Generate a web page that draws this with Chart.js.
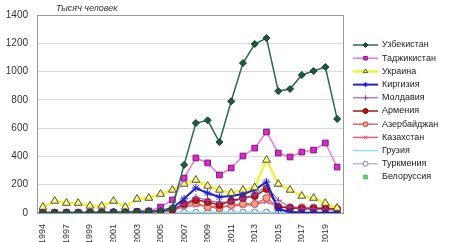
<!DOCTYPE html>
<html>
<head>
<meta charset="utf-8">
<script src="https://cdn.jsdelivr.net/npm/chart.js@4"></script>
<style>
  html, body { margin: 0; padding: 0; background: #fff; }
  #wrap { width: 450px; height: 242px; }
</style>
</head>
<body>
<div id="wrap"><canvas id="chart" width="450" height="242"></canvas></div>
<script>
// years (the second one is missing from the source series)
var years = ['1994','1995','1997','1998','1999','2000','2001','2002','2003','2004','2005','2006',
             '2007','2008','2009','2010','2011','2012','2013','2014','2015','2016','2017','2018','2019','2020'];
var yTicks = [0, 200, 400, 600, 800, 1000, 1200, 1400];

var uzbekistan  = [3,4,4,3,3,4,5,8,10,12,15,35, 340,636,655,502,790,1060,1195,1237,862,877,976,1004,1032,665];
var tajikistan  = [2,3,3,3,4,4,5,6,10,14,42,92, 247,389,354,269,318,403,459,573,424,396,431,445,495,325];
var ukraine     = [42,85,70,70,50,50,85,42,99,106,134,163, 205,233,191,163,141,163,180,375,205,163,120,106,70,35];
var kyrgyzstan  = [2,2,2,2,2,3,4,6,8,10,15,35, 100,177,141,113,120,134,163,219,28,7,3,2,2,2];
var moldova     = [1,1,1,2,2,2,3,5,7,8,10,20, 60,110,90,75,80,100,130,190,90,40,30,30,25,20];
var armenia     = [1,1,2,2,3,4,5,6,8,10,15,25, 64,92,78,57,85,106,120,170,42,35,30,30,30,25];
var azerbaijan  = [1,1,2,2,3,4,5,6,7,8,12,20, 57,70,42,35,57,64,64,106,42,40,40,38,35,30];
var kazakhstan  = [1,1,1,2,2,3,4,5,6,7,10,15, 45,55,50,45,50,55,60,80,45,40,38,35,32,28];
var georgia     = [3,3,3,3,3,3,3,4,4,4,5,5, 5,5,5,5,5,5,5,5,5,5,5,5,5,5];
var turkmenia   = [2,2,2,2,2,2,2,3,3,3,4,5, 5,5,5,6,6,6,6,6,6,5,5,5,5,5];
var belarus     = [3,2,1,1,0,0,0,1,1,1,1,1, 1,1,1,1,1,1,1,1,1,1,1,1,1,1];

function series(label, data, line, lineW, style, radius, fill, edge, extra) {
    var ds = {
        label: label,
        data: data,
        borderColor: line,
        borderWidth: lineW,
        pointStyle: style,
        pointRadius: radius,
        pointBackgroundColor: fill,
        pointBorderColor: edge,
        pointBorderWidth: 1,
        tension: 0
    };
    for (var k in extra) ds[k] = extra[k];
    return ds;
}

var datasets = [
    series('Узбекистан',  uzbekistan, '#2a6a4c', 1.5, 'rectRot', 3.5, '#1d5a3c', '#123c28'),
    series('Таджикистан', tajikistan, '#e878d8', 1.5, 'rect', 4, '#d030c8', '#8a1080'),
    series('Украина',     ukraine,    '#f4f040', 2.5, 'triangle', 4.5, '#f8f4a0', '#5a5a10'),
    series('Киргизия',    kyrgyzstan, '#2020c8', 2, 'star', 4, '#2020c8', '#2020c8'),
    series('Молдавия',    moldova,    '#9040a8', 1, 'cross', 3.5, '#9040a8', '#9040a8'),
    series('Армения',     armenia,    '#a01818', 1.5, 'circle', 3.5, '#c01010', '#801010'),
    series('Азербайджан', azerbaijan, '#d86a6a', 1.5, 'circle', 3.5, '#f0a488', '#c04040'),
    series('Казахстан',   kazakhstan, '#e86080', 1.5, 'crossRot', 3.5, '#e05070', '#e05070'),
    series('Грузия',      georgia,    '#90e4f0', 1.5, 'circle', 0, '#90e4f0', '#90e4f0'),
    series('Туркмения',   turkmenia,  '#9c98d0', 1, 'circle', 3, '#ffffff', '#7878b8'),
    series('Белоруссия',  belarus,    '#60d870', 1, 'rect', 3.5, '#70e070', '#40b050', {showLine: false})
];

// legend, title and frame drawn on the canvas
var extras = {
    id: 'extras',
    afterDraw: function(chart) {
        var ctx = chart.ctx;
        var a = chart.chartArea;
        ctx.save();
        ctx.strokeStyle = '#9a9a9a';
        ctx.lineWidth = 1;
        ctx.strokeRect(Math.round(a.left) + 0.5, Math.round(a.top) + 0.5,
                       Math.round(a.right - a.left), Math.round(a.bottom - a.top));

        ctx.fillStyle = '#333';
        ctx.font = 'italic 9px "Liberation Sans", Arial, sans-serif';
        ctx.textBaseline = 'middle';
        ctx.fillText('Тысяч человек', 56, 8);

        ctx.font = '9px "Liberation Sans", Arial, sans-serif';
        chart.data.datasets.forEach(function(ds, i) {
            var y = 45 + i * 13.2;
            if (ds.showLine !== false) {
                ctx.strokeStyle = ds.borderColor;
                ctx.lineWidth = ds.borderWidth;
                ctx.beginPath();
                ctx.moveTo(353, y);
                ctx.lineTo(378, y);
                ctx.stroke();
            }
            if (ds.pointRadius > 0) {
                ctx.fillStyle = ds.pointBackgroundColor;
                ctx.strokeStyle = ds.pointBorderColor;
                ctx.lineWidth = 1;
                Chart.helpers.drawPoint(ctx, {pointStyle: ds.pointStyle, radius: 2.5, rotation: 0, borderWidth: 1}, 365.5, y);
            }
            ctx.fillStyle = '#222';
            ctx.fillText(ds.label, 382, y);
        });
        ctx.restore();
    }
};

new Chart(document.getElementById('chart').getContext('2d'), {
    type: 'line',
    data: { labels: years, datasets: datasets },
    options: {
        responsive: false,
        animation: false,
        layout: { padding: { left: 2, top: 11, right: 107, bottom: 0 } },
        plugins: {
            legend: { display: false },
            title: { display: false },
            tooltip: { enabled: false }
        },
        scales: {
            x: {
                offset: true,
                grid: { display: false },
                border: { color: '#888' },
                afterFit: function(scale) { scale.height = 29; },
                ticks: {
                    autoSkip: false,
                    maxRotation: 90,
                    minRotation: 90,
                    padding: 3,
                    color: '#333',
                    font: { family: '"Liberation Sans", Arial, sans-serif', size: 9 },
                    callback: function(v, i) { return i % 2 === 0 ? years[i] : ''; }
                }
            },
            y: {
                min: yTicks[0],
                max: yTicks[yTicks.length - 1],
                afterBuildTicks: function(scale) {
                    scale.ticks = yTicks.map(function(v) { return { value: v }; });
                },
                afterFit: function(scale) { scale.width = 35; },
                grid: { color: '#dcdcdc', drawTicks: false },
                border: { color: '#777' },
                ticks: {
                    padding: 9,
                    color: '#333',
                    font: { family: '"Liberation Sans", Arial, sans-serif', size: 10 },
                    callback: function(v) { return String(v); }
                }
            }
        }
    },
    plugins: [extras]
});
</script>
</body>
</html>
